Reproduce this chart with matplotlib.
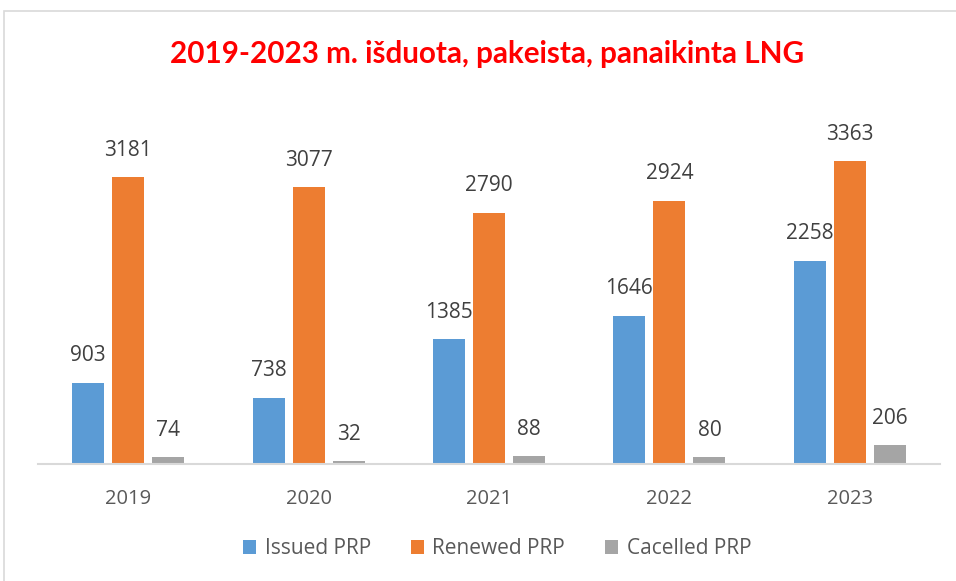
import matplotlib
matplotlib.use("Agg")
import matplotlib.pyplot as plt
import numpy as np
from matplotlib.patches import Rectangle

years = ["2019", "2020", "2021", "2022", "2023"]
issued = [903, 738, 1385, 1646, 2258]
renewed = [3181, 3077, 2790, 2924, 3363]
cancelled = [74, 32, 88, 80, 206]
series_names = ["Issued PRP", "Renewed PRP", "Cacelled PRP"]
colors = ["#5B9BD5", "#ED7D31", "#A5A5A5"]

plt.rcParams['font.family'] = ['Open Sans', 'DejaVu Sans']

fig = plt.figure(figsize=(9.56, 5.81), dpi=100)
ax = fig.add_axes([38/956, 1-464/581, (940-38)/956, (464-103.6)/581])

# light frame around the chart area
fig.patches.append(Rectangle((4/956, -0.5), 2, 1.5 - 11/581, transform=fig.transFigure,
                             fill=False, edgecolor="#D9D9D9", linewidth=1.2))

x = np.arange(len(years))
step = 0.222
width = 0.177
for i, (vals, name, c) in enumerate(zip([issued, renewed, cancelled], series_names, colors)):
    bars = ax.bar(x + (i - 1) * step, vals, width, color=c, label=name)
    for b, v in zip(bars, vals):
        ax.text(b.get_x() + b.get_width()/2, v + 180, str(v), ha='center', va='bottom',
                fontsize=15, color="#404040")

ax.set_xlim(-0.5, len(years) - 0.5)
ax.set_ylim(0, 4000)
ax.set_xticks(x)
ax.set_xticklabels(years, fontsize=14.5, color="#595959")
ax.tick_params(axis='x', length=0, pad=18)
ax.set_yticks([])
for s in ['top', 'right', 'left']:
    ax.spines[s].set_visible(False)
ax.spines['bottom'].set_color("#D9D9D9")
ax.spines['bottom'].set_linewidth(1.5)

fig.text(0.51, 1-54/581, "2019-2023 m. išduota, pakeista, panaikinta LNG", ha='center', va='center',
         fontsize=21.3, fontweight='bold', color="#FF0000", family=['Lato', 'DejaVu Sans'])

fig.legend(loc='center', bbox_to_anchor=(0.52, 1-549/581), ncol=3, frameon=False,
           fontsize=15, handlelength=0.65, handleheight=0.65, handletextpad=0.4,
           columnspacing=1.9, labelcolor="#595959")

fig.savefig("out.png", dpi=100)
